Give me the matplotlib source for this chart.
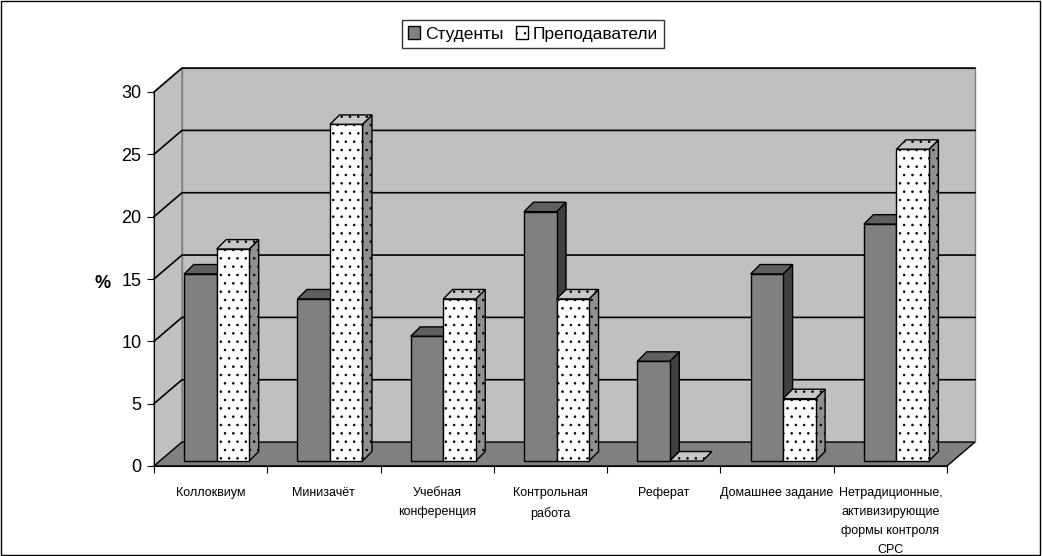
import matplotlib.pyplot as plt
from matplotlib.patches import Polygon, Rectangle, Patch

plt.rcParams['font.family'] = ['Liberation Sans', 'DejaVu Sans']
plt.rcParams['hatch.linewidth'] = 0.6

# data
categories = ['Коллоквиум', 'Минизачёт', 'Учебная\nконференция', 'Контрольная\nработа',
              'Реферат', 'Домашнее задание',
              'Нетрадиционные,\nактивизирующие\nформы контроля\nСРС']
students = [15, 13, 10, 20, 8, 15, 19]
teachers = [17, 27, 13, 13, 0, 5, 25]
series_names = ['Студенты', 'Преподаватели']

# 3d look: depth of the walls and of the bars (in data units)
DX, DY = 0.247, 1.92
FDX, FDY = 0.053, 0.40
BDX, BDY = 0.084, 0.76
W = 0.287
GAP = (1 - 2 * W) / 2
YMAX = 30

fig = plt.figure(figsize=(10.42, 5.56), dpi=100)
fig.patches.append(Rectangle((0.0005, 0.001), 0.998, 0.997, transform=fig.transFigure,
                             fill=False, edgecolor='black', linewidth=1))
ax = fig.add_axes([154 / 1042, 90 / 556, 793 / 1042, 374 / 556])
ax.patch.set_visible(False)
n = len(categories)
ax.set_xlim(0, n)
ax.set_ylim(0, YMAX)


def poly(pts, fc, ec='black', lw=1, hatch=None, z=1):
    p = Polygon(pts, closed=True, facecolor=fc, edgecolor=ec, linewidth=lw,
                hatch=hatch, clip_on=False, zorder=z)
    ax.add_patch(p)


# walls and floor
poly([(DX, DY), (n + DX, DY), (n + DX, YMAX + DY), (DX, YMAX + DY)], '#C0C0C0', ec='#808080', z=0.5)
poly([(0, 0), (DX, DY), (DX, YMAX + DY), (0, YMAX)], '#C0C0C0', ec='#808080', z=0.5)
poly([(0, 0), (n, 0), (n + DX, DY), (DX, DY)], '#808080', ec='black', z=0.6)

for t in range(5, YMAX + 1, 5):
    ax.plot([0, DX, n + DX], [t, t + DY, t + DY], color='black', lw=1.2, clip_on=False, zorder=0.7)


def bar3d(x0, v, front, side, top, hatch=None):
    x0 = x0 + FDX
    x1 = x0 + W
    y0, y1 = FDY, v + FDY
    poly([(x1, y0), (x1 + BDX, y0 + BDY), (x1 + BDX, y1 + BDY), (x1, y1)], side, hatch=hatch, z=2)
    poly([(x0, y1), (x0 + BDX, y1 + BDY), (x1 + BDX, y1 + BDY), (x1, y1)], top, hatch=hatch, z=2)
    if v > 0:
        poly([(x0, y0), (x1, y0), (x1, y1), (x0, y1)], front, hatch=hatch, z=2)


for i in range(n):
    bar3d(i + GAP, students[i], '#808080', '#404040', '#606060')
    bar3d(i + GAP + W, teachers[i], 'white', '#909090', '#C8C8C8', hatch='..')

# axes
for s in ['top', 'right']:
    ax.spines[s].set_visible(False)
ax.spines['left'].set_zorder(3)
ax.spines['bottom'].set_zorder(3)
ax.set_yticks(range(0, YMAX + 1, 5))
ax.tick_params(axis='y', labelsize=13, length=5, pad=4)
ax.set_xticks(range(n + 1))
ax.set_xticklabels([])
ax.set_xticks([i + 0.5 for i in range(n)], minor=True)
ax.set_xticklabels(categories, minor=True, fontsize=9, linespacing=1.8, va='top')
ax.tick_params(axis='x', which='major', length=5, direction='out')
ax.tick_params(axis='x', which='minor', length=0, pad=15)

fig.text(103 / 1042, 1 - 283 / 556, '%', fontsize=13, fontweight='bold', ha='center', va='center')

handles = [Patch(facecolor='#808080', edgecolor='black', linewidth=1),
           Patch(facecolor='white', edgecolor='black', linewidth=1, hatch='..')]
leg = fig.legend(handles, series_names, loc='center', bbox_to_anchor=(533 / 1042, 1 - 34 / 556),
                 ncol=2, fontsize=12.5, frameon=True, fancybox=False, handlelength=0.7,
                 handleheight=0.7, handletextpad=0.3, columnspacing=0.7, borderpad=0.35)
leg.get_frame().set_edgecolor('black')
leg.get_frame().set_linewidth(1)

fig.savefig('out.png', dpi=100)
